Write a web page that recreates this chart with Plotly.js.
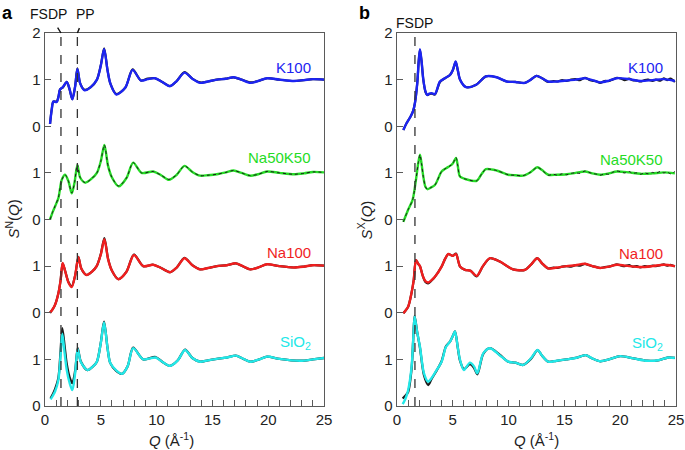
<!DOCTYPE html>
<html><head><meta charset="utf-8">
<script src="https://cdn.plot.ly/plotly-3.0.1.min.js"></script>
<style>html,body{margin:0;padding:0;background:#fff}#plot{width:685px;height:450px}</style>
</head><body><div id="plot"></div>
<script>
// ---------- Panel a : neutron S(Q) ----------
const qK_a = [0.45,0.6,0.75,1.05,1.2,1.35,1.6,1.95,2.2,2.45,2.7,2.9,3.15,3.55,4.1,4.65,5.0,5.3,5.6,5.85,6.4,7.2,7.85,8.6,9.2,9.85,10.5,11.2,11.8,12.5,13.2,13.9,14.6,15.4,16.2,16.9,17.6,18.4,19.1,19.9,21,22.3,23.2,24,25];
const simK_a = [0.05,0.35,0.53,0.52,0.62,0.79,0.84,0.95,0.8,0.58,0.85,1.23,0.92,0.77,0.84,1.0,1.3,1.66,1.2,0.92,0.68,0.83,1.21,0.98,1.01,1.03,0.95,0.86,0.97,1.15,1.02,0.93,0.96,1.0,1.02,1.05,1.0,0.93,0.97,1.03,1.0,0.97,0.99,1.01,1.0];
const expK_a = [0.05,0.36,0.53,0.53,0.63,0.79,0.83,0.95,0.79,0.58,0.86,1.24,0.92,0.78,0.84,1.0,1.31,1.67,1.21,0.92,0.69,0.83,1.22,0.98,1.02,1.03,0.95,0.86,0.97,1.16,1.02,0.94,0.96,1.0,1.02,1.05,1.0,0.94,0.97,1.03,1.0,0.97,0.99,1.01,1.0];

const qNK_a = [0.45,0.7,0.9,1.2,1.5,1.8,2.1,2.4,2.65,2.9,3.15,3.6,4.1,4.65,5.0,5.32,5.65,6.0,6.6,7.3,7.9,8.65,9.7,10.4,11.1,11.8,12.5,13.2,13.9,14.6,15.4,16.2,16.9,17.6,18.4,19.1,19.9,21,22.3,23.2,24,25];
const simNK_a = [0.0,0.17,0.28,0.46,0.85,0.96,0.82,0.56,0.8,1.17,0.9,0.79,0.86,1.0,1.25,1.6,1.15,0.9,0.71,0.89,1.22,1.0,1.03,0.95,0.85,0.96,1.15,1.02,0.94,0.95,0.97,1.01,1.05,1.0,0.94,0.97,1.03,1.0,0.97,0.99,1.02,1.01];
const expNK_a = [0.0,0.17,0.29,0.47,0.85,0.96,0.82,0.57,0.8,1.18,0.9,0.79,0.86,1.0,1.25,1.6,1.15,0.9,0.72,0.89,1.22,1.0,1.03,0.95,0.86,0.96,1.15,1.02,0.94,0.95,0.97,1.01,1.05,1.0,0.94,0.97,1.03,1.0,0.97,0.99,1.02,1.01];

const qN_a = [0.45,0.7,0.9,1.2,1.4,1.58,1.8,2.1,2.39,2.7,2.99,3.25,3.73,4.2,4.63,5.0,5.32,5.65,6.0,6.57,7.3,7.97,8.8,9.7,10.4,11.2,11.8,12.5,13.2,13.9,14.6,15.4,16.3,17.1,17.7,18.4,19.1,19.9,21,22.3,23.2,24,25];
const simN_a = [0.0,0.08,0.17,0.42,0.7,1.07,0.9,0.65,0.55,0.8,1.19,0.95,0.81,0.88,1.0,1.25,1.58,1.15,0.9,0.72,0.88,1.24,1.0,1.03,0.96,0.87,0.97,1.17,1.02,0.93,0.96,1.0,1.02,1.06,1.0,0.93,0.97,1.04,1.0,0.97,0.99,1.02,1.01];
const expN_a = [0.0,0.08,0.17,0.42,0.7,1.06,0.9,0.66,0.57,0.8,1.2,0.95,0.81,0.88,1.0,1.26,1.6,1.16,0.9,0.72,0.88,1.25,1.0,1.03,0.96,0.87,0.97,1.18,1.02,0.93,0.96,1.0,1.02,1.06,1.0,0.93,0.97,1.04,1.0,0.97,0.99,1.02,1.01];

const qS_a = [0.5,0.7,0.9,1.2,1.4,1.55,1.75,1.95,2.2,2.45,2.7,2.93,3.2,3.8,4.3,4.65,5.0,5.29,5.6,5.85,6.4,6.9,7.4,7.9,8.8,9.9,10.5,11.2,11.9,12.55,13.2,13.9,14.6,15.4,16.3,17.1,17.7,18.4,19.2,19.9,21,22.9,24,25];
const simS_a = [0.14,0.22,0.31,0.56,1.1,1.55,1.15,0.77,0.5,0.34,0.7,1.22,0.95,0.77,0.85,0.95,1.35,1.79,1.25,0.92,0.76,0.69,0.85,1.24,1.0,1.04,0.95,0.86,0.98,1.2,1.03,0.95,0.98,1.01,1.04,1.08,1.02,0.95,1.0,1.06,1.01,0.97,1.0,1.03];
const expS_a = [0.16,0.25,0.36,0.6,1.2,1.67,1.3,0.9,0.62,0.49,0.75,1.24,0.96,0.77,0.85,0.95,1.36,1.81,1.25,0.92,0.75,0.69,0.85,1.25,1.0,1.05,0.95,0.86,0.98,1.21,1.03,0.95,0.98,1.01,1.04,1.08,1.02,0.95,1.0,1.06,1.01,0.97,1.0,1.03];

// ---------- Panel b : X-ray S(Q) ----------
const qK_b = [0.57,0.87,1.22,1.45,1.61,1.82,1.95,2.06,2.2,2.36,2.55,2.72,2.9,3.1,3.4,3.85,4.3,4.75,5.0,5.26,5.45,5.65,6.18,7.1,7.97,8.93,9.83,10.6,11.47,12.0,12.5,13.0,13.55,14.3,15.2,16.0,16.85,17.5,18.2,19.0,19.7,20.8,21.8,22.9,23.9,24.9];
const simK_b = [-0.08,0.07,0.21,0.33,0.5,0.93,1.4,1.65,1.4,1.0,0.75,0.67,0.7,0.71,0.69,0.96,1.03,1.1,1.2,1.39,1.2,1.0,0.84,0.89,1.07,1.05,0.96,0.95,0.93,1.0,1.08,1.03,0.96,0.96,0.98,1.0,1.03,0.99,0.94,0.98,1.03,1.01,0.97,0.99,1.01,0.97];
const qKx_b = [0.57,0.87,1.22,1.45,1.61,1.82,1.95,2.06,2.2,2.36,2.55,2.72,2.9,3.1,3.4,3.85,4.3,4.75,5.0,5.26,5.45,5.65,6.18,7.1,7.97,8.93,9.83,10.6,11.47,12.0,12.5,13.0,13.55,14.0,14.4,14.8,15.2,15.6,16.0,16.4,16.85,17.2,17.5,17.9,18.2,18.6,19.0,19.3,19.7,20.1,20.4,20.8,21.1,21.5,21.8,22.2,22.5,22.9,23.2,23.6,23.9,24.2,24.5,24.9];
const expK_b = [-0.08,0.07,0.21,0.33,0.5,0.93,1.4,1.64,1.4,1.0,0.74,0.67,0.69,0.7,0.68,0.95,1.03,1.1,1.2,1.38,1.2,1.0,0.84,0.89,1.07,1.05,0.96,0.95,0.93,1.0,1.08,1.03,0.95,0.97,0.96,0.99,0.97,1.0,1.01,0.99,1.04,1.0,0.98,0.96,0.93,0.97,0.97,1.0,1.04,1.02,0.99,1.02,0.99,0.98,0.96,0.99,1.0,0.97,1.0,0.98,1.03,0.99,1.02,0.95];

const qNK_b = [0.57,1.0,1.4,1.7,1.9,2.06,2.2,2.36,2.55,2.72,3.0,3.4,4.0,4.4,4.75,5.0,5.29,5.45,5.65,6.24,7.14,7.6,7.97,8.93,9.97,10.6,11.3,12.0,12.57,13.0,13.55,14.3,15.2,16.0,16.85,17.5,18.2,19.0,19.7,20.8,21.8,22.9,23.9,24.9];
const simNK_b = [-0.05,0.21,0.42,0.85,1.2,1.39,1.2,0.92,0.7,0.65,0.68,0.74,1.03,1.1,1.15,1.2,1.32,1.15,0.92,0.86,0.83,0.98,1.08,1.05,0.96,0.95,0.94,1.02,1.12,1.06,0.96,0.96,0.97,1.0,1.03,0.99,0.96,0.99,1.03,1.01,0.98,0.99,1.01,0.99];
const qNKx_b = [0.57,1.0,1.4,1.7,1.9,2.06,2.2,2.36,2.55,2.72,3.0,3.4,4.0,4.4,4.75,5.0,5.29,5.45,5.65,6.24,7.14,7.6,7.97,8.93,9.97,10.6,11.3,12.0,12.57,13.0,13.55,14.0,14.4,14.8,15.2,15.6,16.0,16.4,16.85,17.2,17.5,17.9,18.2,18.6,19.0,19.3,19.7,20.1,20.4,20.8,21.1,21.5,21.8,22.2,22.5,22.9,23.2,23.6,23.9,24.2,24.5,24.9];
const expNK_b = [-0.05,0.21,0.42,0.85,1.2,1.39,1.2,0.92,0.7,0.65,0.68,0.74,1.03,1.1,1.15,1.2,1.33,1.15,0.92,0.86,0.83,0.98,1.08,1.05,0.96,0.95,0.94,1.02,1.12,1.06,0.95,0.97,0.95,0.98,0.96,0.99,1.0,0.99,1.04,1.01,0.99,0.97,0.95,0.98,0.97,1.01,1.04,1.02,1.0,1.03,0.99,1.0,0.97,1.0,0.98,1.01,0.99,1.03,1.0,1.02,0.98,1.03];

const qN_b = [0.57,1.0,1.3,1.5,1.7,1.9,2.06,2.3,2.55,2.8,3.1,3.4,4.0,4.3,4.6,4.99,5.29,5.5,5.65,6.1,6.6,7.14,7.7,8.33,9.2,10.4,11.47,12.0,12.57,13.0,13.55,14.3,15.2,16.0,16.85,17.5,18.2,19.0,19.7,20.8,21.8,22.9,23.9,24.9];
const simN_b = [-0.01,0.13,0.42,0.7,1.13,1.05,1.0,0.8,0.68,0.65,0.7,0.77,0.99,1.15,1.26,1.22,1.26,1.1,0.99,0.92,0.9,0.79,1.0,1.17,1.1,0.93,0.92,1.03,1.17,1.06,0.95,0.97,1.0,1.02,1.05,1.0,0.96,0.99,1.03,1.0,0.98,1.0,1.03,1.0];
const qNx_b = [0.57,1.0,1.3,1.5,1.7,1.9,2.06,2.3,2.55,2.8,3.1,3.4,4.0,4.3,4.6,4.99,5.29,5.5,5.65,6.1,6.6,7.14,7.7,8.33,9.2,10.4,11.47,12.0,12.57,13.0,13.55,14.0,14.4,14.8,15.2,15.6,16.0,16.4,16.85,17.2,17.5,17.9,18.2,18.6,19.0,19.3,19.7,20.1,20.4,20.8,21.1,21.5,21.8,22.2,22.5,22.9,23.2,23.6,23.9,24.2,24.5,24.9];
const expN_b = [-0.01,0.13,0.42,0.7,1.13,1.05,1.0,0.8,0.66,0.63,0.69,0.77,0.99,1.15,1.26,1.22,1.27,1.1,0.99,0.92,0.9,0.78,1.0,1.17,1.1,0.93,0.92,1.03,1.17,1.06,0.95,0.97,0.96,0.99,1.0,0.99,1.02,1.01,1.05,1.02,1.0,0.98,0.96,0.98,0.99,1.01,1.04,1.01,1.0,1.02,0.99,1.0,0.97,1.0,0.99,1.01,1.0,1.02,1.04,1.01,1.03,0.99];

const qS_b = [0.51,0.75,1.0,1.31,1.45,1.58,1.8,2.06,2.42,2.8,3.1,3.55,4.0,4.39,4.75,5.0,5.2,5.45,5.65,6.0,6.54,6.9,7.2,7.73,8.33,9.2,9.97,10.6,11.3,12.0,12.6,13.0,13.55,14.3,15.2,16.0,16.9,17.5,18.2,19.0,20.0,21.2,22.4,23.4,24.3,24.9];
const simS_b = [0.04,0.15,0.34,0.84,1.4,1.92,1.6,1.27,0.7,0.52,0.6,0.77,0.95,1.27,1.38,1.5,1.6,1.25,0.99,0.77,0.93,0.85,0.7,1.13,1.24,1.09,0.95,0.93,0.88,1.02,1.2,1.08,0.95,0.97,1.0,1.03,1.09,1.02,0.96,1.0,1.07,1.02,0.97,0.98,1.04,1.03];
const expS_b = [0.16,0.22,0.3,0.8,1.4,1.93,1.6,1.25,0.66,0.45,0.58,0.76,0.96,1.28,1.38,1.5,1.6,1.25,0.97,0.79,0.9,0.82,0.68,1.12,1.24,1.1,0.95,0.93,0.88,1.01,1.2,1.08,0.95,0.97,1.0,1.03,1.09,1.02,0.96,1.0,1.07,1.02,0.97,0.98,1.04,1.03];

const offK = 6, offNK = 4, offN = 2, offS = 0;
const fsdpA = 1.43, ppA = 2.9, fsdpB = 1.61;
const yTickVals = [0,1,2,3,4,5,6,7,8];
const yTickText = ['0','1','0','1','0','1','0','1','2'];
const xTickVals = [0,5,10,15,20,25];

const C = {K:'#1c24f2', NK:'#26dc26', N:'#f01e1e', S:'#22e8e8', exp:'#1a1a1a'};
const shift = (a,o)=>a.map(v=>v+o);

function line(x,y,color,w,xa,ya,dash){
  return {x:x,y:y,xaxis:xa,yaxis:ya,type:'scatter',mode:'lines',hoverinfo:'skip',
    line:{color:color,width:w,shape:'spline',smoothing:0.8,dash:dash||'solid'}};
}
const traces = [
  // panel a
  line(qK_a, shift(expK_a,offK), C.exp, 2.2,'x','y'),
  line(qK_a, shift(simK_a,offK), C.K, 2.4,'x','y'),
  line(qNK_a, shift(simNK_a,offNK), C.NK, 2.4,'x','y'),
  line(qNK_a, shift(expNK_a,offNK), C.exp, 1,'x','y','dot'),
  line(qN_a, shift(expN_a,offN), C.exp, 2.2,'x','y'),
  line(qN_a, shift(simN_a,offN), C.N, 2.4,'x','y'),
  line(qS_a, shift(expS_a,offS), C.exp, 2.3,'x','y'),
  line(qS_a, shift(simS_a,offS), C.S, 2.4,'x','y'),
  // panel b
  line(qKx_b, shift(expK_b,offK), C.exp, 2.2,'x2','y2'),
  line(qK_b, shift(simK_b,offK), C.K, 2.4,'x2','y2'),
  line(qNK_b, shift(simNK_b,offNK), C.NK, 2.4,'x2','y2'),
  line(qNKx_b, shift(expNK_b,offNK), C.exp, 1,'x2','y2','dot'),
  line(qNx_b, shift(expN_b,offN), C.exp, 2.2,'x2','y2'),
  line(qN_b, shift(simN_b,offN), C.N, 2.4,'x2','y2'),
  line(qS_b, shift(expS_b,offS), C.exp, 2.3,'x2','y2'),
  line(qS_b, shift(simS_b,offS), C.S, 2.4,'x2','y2')
];

const axC = '#5a5a5a';
const xBase = {range:[0,25], showgrid:false, zeroline:false, showline:true, linecolor:axC, linewidth:1.3, mirror:true,
  ticks:'inside', ticklen:6, tickwidth:1.2, tickcolor:axC, tickmode:'array', tickvals:xTickVals,
  minor:{ticks:'inside', ticklen:6, tickwidth:1, tickcolor:axC, tickmode:'linear', tick0:0, dtick:1},
  tickfont:{size:15,color:'#222'}, fixedrange:true};
const yBase = {range:[0,8], showgrid:false, zeroline:false, showline:true, linecolor:axC, linewidth:1.3, mirror:true,
  ticks:'inside', ticklen:6, tickwidth:1.2, tickcolor:axC, tickmode:'array', tickvals:yTickVals, ticktext:yTickText,
  tickfont:{size:15,color:'#222'}, fixedrange:true};

const lbl = (text,color,xa,ya,y)=>({text:text, xref:xa, yref:ya, x:24.0, y:y, xanchor:'right', yanchor:'middle',
  showarrow:false, font:{size:15,color:color}});

const annotations = [
  {text:'<b>a</b>', xref:'paper', yref:'paper', x:-0.072, y:1.086, xanchor:'left', yanchor:'top', showarrow:false, font:{size:18,color:'#000'}},
  {text:'<b>b</b>', xref:'paper', yref:'paper', x:0.494, y:1.086, xanchor:'left', yanchor:'top', showarrow:false, font:{size:18,color:'#000'}},
  {text:'FSDP', xref:'x', yref:'y', x:fsdpA, y:8, ax:-12, ay:-19, showarrow:true, arrowhead:0, arrowwidth:1.4, arrowcolor:'#111', standoff:0, startstandoff:5, font:{size:14,color:'#111'}},
  {text:'PP', xref:'x', yref:'y', x:ppA, y:8, ax:8, ay:-19, showarrow:true, arrowhead:0, arrowwidth:1.4, arrowcolor:'#111', standoff:0, startstandoff:5, font:{size:14,color:'#111'}},
  {text:'FSDP', xref:'x2', yref:'y2', x:fsdpB, y:8, xanchor:'center', yanchor:'bottom', showarrow:false, font:{size:14,color:'#111'}},
  lbl('K100', C.K, 'x','y', 7.27), lbl('Na50K50', C.NK, 'x','y', 5.32), lbl('Na100', C.N, 'x','y', 3.30), lbl('SiO<sub>2</sub>', C.S, 'x','y', 1.37),
  lbl('K100', C.K, 'x2','y2', 7.25), lbl('Na50K50', C.NK, 'x2','y2', 5.28), lbl('Na100', C.N, 'x2','y2', 3.28), lbl('SiO<sub>2</sub>', C.S, 'x2','y2', 1.35),
  {text:'<i>S</i><sup>N</sup>(<i>Q</i>)', xref:'x domain', yref:'y domain', x:-0.118, y:0.5, xanchor:'center', yanchor:'middle', textangle:-90, showarrow:false, font:{size:15,color:'#222'}},
  {text:'<i>S</i><sup>X</sup>(<i>Q</i>)', xref:'x2 domain', yref:'y2 domain', x:-0.115, y:0.5, xanchor:'center', yanchor:'middle', textangle:-90, showarrow:false, font:{size:15,color:'#222'}},
  {text:'<i>Q</i> (Å<sup>-1</sup>)', xref:'x domain', yref:'y domain', x:0.455, y:-0.09, xanchor:'center', yanchor:'middle', showarrow:false, font:{size:15,color:'#222'}},
  {text:'<i>Q</i> (Å<sup>-1</sup>)', xref:'x2 domain', yref:'y2 domain', x:0.5, y:-0.09, xanchor:'center', yanchor:'middle', showarrow:false, font:{size:15,color:'#222'}}
];

const dashLine = (x,xa,ya)=>({type:'line', xref:xa, yref:ya+' domain', x0:x, x1:x, y0:0, y1:1, line:{color:'#333', width:1.3, dash:'dash'}, layer:'above'});
const shapes = [dashLine(fsdpA,'x','y'), dashLine(ppA,'x','y'), dashLine(fsdpB,'x2','y2')];

const layout = {
  width:685, height:450, paper_bgcolor:'#fff', plot_bgcolor:'#fff',
  margin:{l:45, r:9, t:33, b:44},
  showlegend:false,
  font:{family:'"Liberation Sans", Arial, Helvetica, sans-serif', size:15, color:'#222'},
  xaxis:Object.assign({}, xBase, {domain:[0,0.4422], anchor:'y'}),
  yaxis:Object.assign({}, yBase, {domain:[0,1], anchor:'x'}),
  xaxis2:Object.assign({}, xBase, {domain:[0.5578,1], anchor:'y2'}),
  yaxis2:Object.assign({}, yBase, {domain:[0,1], anchor:'x2'}),
  annotations:annotations, shapes:shapes
};
Plotly.newPlot('plot', traces, layout, {staticPlot:true, displayModeBar:false});
</script>
</body></html>
